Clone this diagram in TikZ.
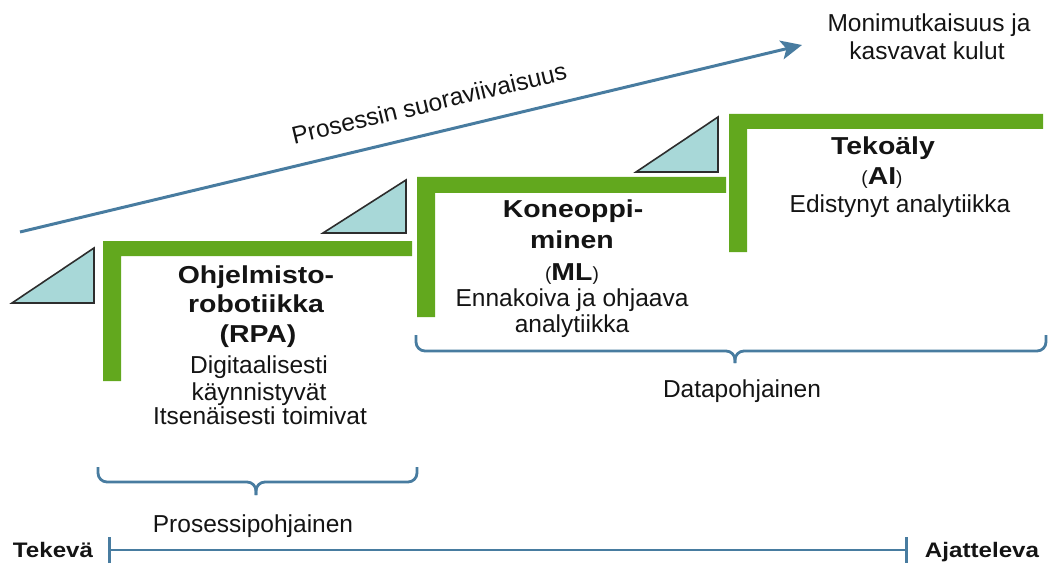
\documentclass[tikz,border=0pt]{standalone}
\usepackage{fontspec}
\setmainfont{Liberation Sans}
\newfontfamily\widebold{Liberation Sans}[FakeStretch=1.16]
\newfontfamily\axisbold{Liberation Sans}[FakeStretch=1.15]
\usetikzlibrary{arrows.meta}

\definecolor{stepgreen}{RGB}{98,168,30}
\definecolor{rampfill}{RGB}{168,216,216}
\definecolor{rampline}{RGB}{45,45,45}
\definecolor{steelline}{RGB}{72,124,160}
\definecolor{ink}{RGB}{20,20,20}

\newcommand{\thinparen}[1]{{\normalfont\fontsize{19}{20}\selectfont #1}}

\tikzset{
  every node/.style={inner sep=0pt, outer sep=0pt, text=ink},
  bodyfont/.style={font=\fontsize{24.5}{28}\selectfont},
  body/.style={bodyfont, anchor=base},
  title/.style={font=\widebold\bfseries\fontsize{24.5}{28}\selectfont, anchor=base},
  axislabel/.style={font=\axisbold\bfseries\fontsize{21}{24}\selectfont, anchor=base},
  stair/.style={fill=stepgreen},
  ramp/.style={fill=rampfill, draw=rampline, line width=1.6pt, line join=miter},
  trend/.style={draw=steelline, line width=3pt,
    -{Stealth[length=21pt, width=19pt, inset=5pt]}},
  bracket/.style={draw=steelline, line width=2.8pt, rounded corners=9pt},
  axisline/.style={draw=steelline, line width=2.8pt,
    {Bar[width=26pt]}-{Bar[width=26pt]}},
}

\begin{document}
\begin{tikzpicture}[x=1pt, y=-1pt]
\useasboundingbox (0,0) rectangle (1049,564);

% green stair steps
\fill[stair] (103,381) -- (103,241) -- (412,241) -- (412,256) -- (121,256) -- (121,381) -- cycle;
\fill[stair] (417,317) -- (417,177) -- (726,177) -- (726,193) -- (435,193) -- (435,317) -- cycle;
\fill[stair] (729,252) -- (729,114) -- (1043,114) -- (1043,129) -- (747,129) -- (747,252) -- cycle;

% ramps in front of each step
\filldraw[ramp] (12,303) -- (94,248) -- (94,303) -- cycle;
\filldraw[ramp] (323,233) -- (406,180) -- (406,233) -- cycle;
\filldraw[ramp] (636,172) -- (718,117) -- (718,172) -- cycle;

% rising trend arrow
\coordinate (trendstart) at (20,232);
\coordinate (trendend) at (802,45);
\draw[trend] (trendstart) -- node[bodyfont, sloped, pos=0.532, above=21pt] (trendlabel) {Prosessin suoraviivaisuus} (trendend);

\node[body] (cost1) at (929,32) {Monimutkaisuus ja};
\node[body] (cost2) at (927,60) {kasvavat kulut};

% step 1
\node[title] (rpa1) at (256,283) {Ohjelmisto-};
\node[title] (rpa2) at (256,312) {robotiikka};
\node[title] (rpa3) at (258,342) {(RPA)};
\node[body] (rpa4) at (259,373) {Digitaalisesti};
\node[body] (rpa5) at (259,400) {käynnistyvät};
\node[body] (rpa6) at (260,424) {Itsenäisesti toimivat};

% step 2
\node[title] (ml1) at (573,218) {Koneoppi-};
\node[title] (ml2) at (572,248) {minen};
\node[title] (ml3) at (572,280) {\thinparen{(}ML\thinparen{)}};
\node[body] (ml4) at (572,306) {Ennakoiva ja ohjaava};
\node[body] (ml5) at (572,332) {analytiikka};

% step 3
\node[title] (ai1) at (883,155) {Tekoäly};
\node[title] (ai2) at (882,185) {\thinparen{(}AI\thinparen{)}};
\node[body] (ai3) at (900,212) {Edistynyt analytiikka};

% braces
\draw[bracket] (98,467) -- (98,482) -- (256,482) -- (256,495);
\draw[bracket] (417,467) -- (417,482) -- (256,482) -- (256,495);
\node[body] (proc) at (253,532) {Prosessipohjainen};

\draw[bracket] (416,335) -- (416,351) -- (735,351) -- (735,363);
\draw[bracket] (1046,335) -- (1046,351) -- (735,351) -- (735,363);
\node[body] (data) at (742,397) {Datapohjainen};

% bottom axis
\node[axislabel] (tekeva) at (53,557) {Tekevä};
\node[axislabel] (ajatteleva) at (982,557) {Ajatteleva};
\coordinate (axl) at (108,550);
\coordinate (axr) at (908,550);
\draw[axisline] (axl) -- (axr);
\end{tikzpicture}
\end{document}
